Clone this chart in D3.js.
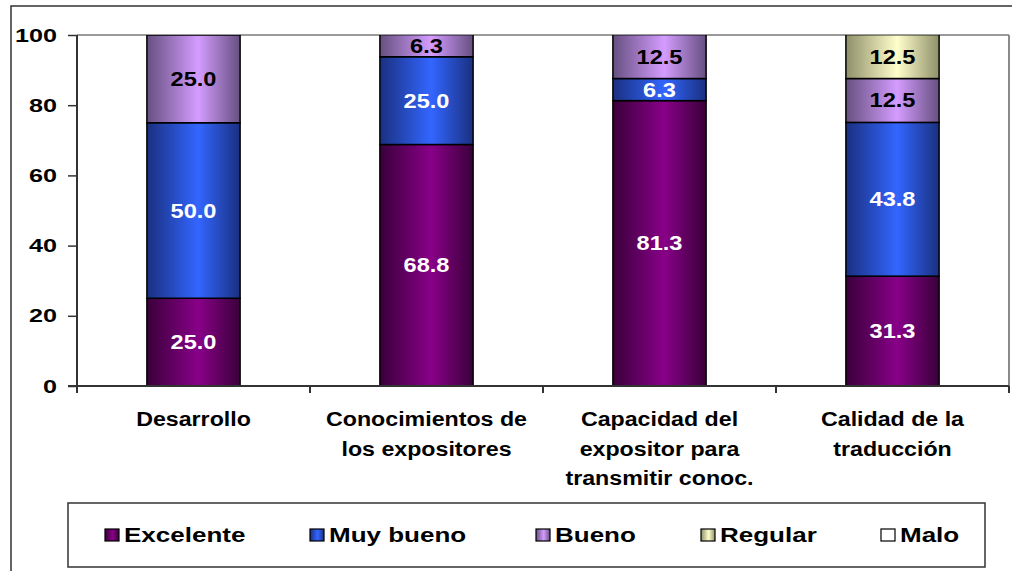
<!DOCTYPE html>
<html><head><meta charset="utf-8">
<script src="https://cdn.jsdelivr.net/npm/d3@7"></script>
<style>body{margin:0;background:#fff}svg{display:block}text{font-family:"Liberation Sans",Arial,sans-serif;font-weight:bold}</style>
</head><body><svg id="c" width="1018" height="571"></svg>
<script>
const categories = [["Desarrollo"],["Conocimientos de","los expositores"],["Capacidad del","expositor para","transmitir conoc."],["Calidad de la","traducción"]];
const catKeys = ["Desarrollo","Conocimientos","Capacidad","Calidad"];
const seriesNames = ["Excelente","Muy bueno","Bueno","Regular","Malo"];
const excelente = [25.0, 68.8, 81.3, 31.3];
const muyBueno = [50.0, 25.0, 6.3, 43.8];
const bueno = [25.0, 6.3, 12.5, 12.5];
const regular = [0, 0, 0, 12.5];
const malo = [0, 0, 0, 0];
const yTicks = [0, 20, 40, 60, 80, 100];
const seriesColors = ["#880088", "#3366ff", "#d49cff", "#ffffcc", "#ffffff"];
const seriesDark = ["#3a003a", "#1a3080", "#665080", "#8f8f6a", "#ffffff"];
const labelColors = ["#fff", "#fff", "#000", "#000", "#000"];

const seriesVals = [excelente, muyBueno, bueno, regular, malo];
const rows = catKeys.map((k, i) => { const r = {cat: k}; seriesNames.forEach((s, j) => r[s] = seriesVals[j][i]); return r; });
const stacked = d3.stack().keys(seriesNames)(rows);

const svg = d3.select("#c");
const L = 77, R = 1009, T = 35, B = 386;
const x = d3.scaleBand().domain(catKeys).range([L, R]).paddingInner(0.6).paddingOuter(0.3);
const y = d3.scaleLinear().domain([0, 100]).range([B, T]);

// gradients
const defs = svg.append("defs");
seriesNames.forEach((s, j) => {
  const g = defs.append("linearGradient").attr("id", "g" + j).attr("x1", "0").attr("x2", "1").attr("y1", "0").attr("y2", "0");
  g.append("stop").attr("offset", "0").attr("stop-color", seriesDark[j]);
  g.append("stop").attr("offset", "0.55").attr("stop-color", seriesColors[j]);
  g.append("stop").attr("offset", "1").attr("stop-color", seriesDark[j]);
});
defs.append("clipPath").attr("id", "clip").append("rect").attr("x", L).attr("y", T).attr("width", R - L).attr("height", B - T);

// outer frame (top + left)
svg.append("path").attr("d", "M11,571 L11,6 L1012,6").attr("fill", "none").attr("stroke", "#333").attr("stroke-width", 1.5);

// plot area border top/right
svg.append("line").attr("x1", L).attr("x2", R).attr("y1", T).attr("y2", T).attr("stroke", "#9a9a9a").attr("stroke-width", 2);
svg.append("line").attr("x1", R).attr("x2", R).attr("y1", T).attr("y2", B).attr("stroke", "#8a8a8a").attr("stroke-width", 2);

// bars
const bars = svg.append("g").attr("clip-path", "url(#clip)");
stacked.forEach((layer, j) => {
  bars.selectAll(null).data(layer.filter(d => d[1] - d[0] > 0)).join("rect")
    .attr("x", d => x(d.data.cat)).attr("width", x.bandwidth())
    .attr("y", d => y(d[1])).attr("height", d => y(d[0]) - y(d[1]))
    .attr("fill", `url(#g${j})`).attr("stroke", "#000").attr("stroke-width", 1.5);
});

// data labels
stacked.forEach((layer, j) => {
  svg.selectAll(null).data(layer.filter(d => d[1] - d[0] > 0)).join("text")
    .attr("transform", d => `translate(${x(d.data.cat) + x.bandwidth() / 2},${(y(d[0]) + y(Math.min(d[1], 100))) / 2 + 7}) scale(1.18,1)`)
    .attr("text-anchor", "middle").attr("font-size", 20).attr("fill", labelColors[j])
    .text(d => (d[1] - d[0]).toFixed(1));
});

// y axis
const ya = svg.append("g").attr("transform", `translate(${L},0)`)
  .call(d3.axisLeft(y).tickValues(yTicks).tickSize(9).tickFormat(""));
ya.select(".domain").attr("d", `M0,${T}V${B + 7}`).attr("stroke", "#333").attr("stroke-width", 2);
ya.selectAll(".tick line").attr("stroke", "#333").attr("stroke-width", 1.5);
svg.selectAll(null).data(yTicks).join("text")
  .attr("transform", d => `translate(57,${y(d) + 6.5}) scale(1.4,1)`)
  .attr("text-anchor", "end").attr("font-size", 18).attr("fill", "#000").text(d => d);

// x axis
svg.append("line").attr("x1", 68).attr("x2", R).attr("y1", B).attr("y2", B).attr("stroke", "#333").attr("stroke-width", 2);
const bounds = d3.range(catKeys.length + 1).map(i => L + i * (R - L) / catKeys.length);
svg.selectAll(null).data(bounds).join("line")
  .attr("x1", d => d).attr("x2", d => d).attr("y1", B).attr("y2", B + 7)
  .attr("stroke", "#333").attr("stroke-width", 2);
catKeys.forEach((k, i) => {
  categories[i].forEach((line, li) => {
    svg.append("text")
      .attr("transform", `translate(${x(k) + x.bandwidth() / 2},${426 + li * 29.5}) scale(1.16,1)`)
      .attr("text-anchor", "middle").attr("font-size", 20).attr("fill", "#000").text(line);
  });
});

// legend
svg.append("rect").attr("x", 68).attr("y", 503).attr("width", 917).attr("height", 64)
  .attr("fill", "#fff").attr("stroke", "#333").attr("stroke-width", 1.5);
const legX = [124, 329, 555, 720, 900];
seriesNames.forEach((s, j) => {
  svg.append("rect").attr("x", legX[j] - 19).attr("y", 529).attr("width", 14).attr("height", 12)
    .attr("fill", `url(#g${j})`).attr("stroke", "#000").attr("stroke-width", 1.2);
  svg.append("text").attr("transform", `translate(${legX[j]},542) scale(1.3,1)`)
    .attr("font-size", 20).attr("fill", "#000").text(s);
});
</script></body></html>
